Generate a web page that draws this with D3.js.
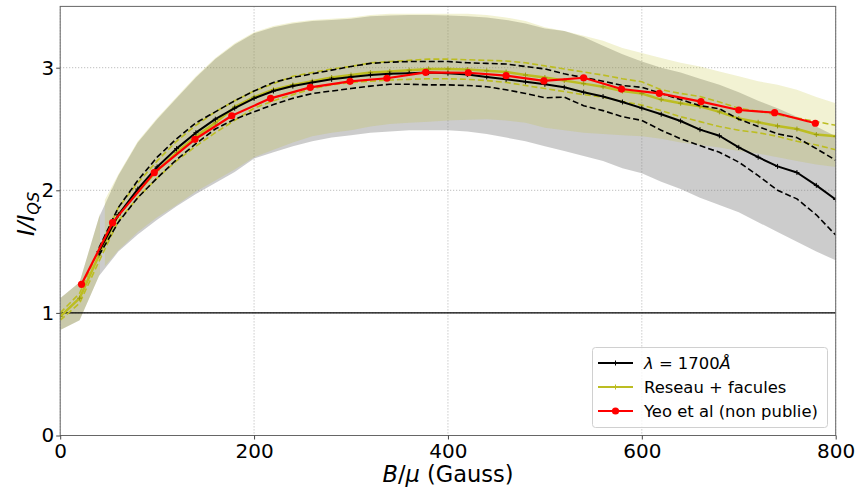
<!DOCTYPE html>
<html><head><meta charset="utf-8">
<script src="https://cdn.jsdelivr.net/npm/d3@7"></script>
<style>
body{margin:0;background:#fff;}
svg text{font-family:"DejaVu Sans",sans-serif;}
</style></head>
<body>
<svg id="c" width="859" height="488"></svg>
<script>
// ---- data ----
const bYellow = [0,20,40,60,80,100,120,140,160,180,200,220,240,260,280,300,320,340,360,380,400,420,440,460,480,500,520,540,560,580,600,620,640,660,680,700,720,740,760,780,800];
const yellowMean = [0.97,1.12,1.47,1.80,1.99,2.16,2.31,2.44,2.55,2.68,2.76,2.82,2.86,2.89,2.92,2.94,2.96,2.97,2.98,2.99,2.99,2.985,2.975,2.965,2.94,2.92,2.895,2.87,2.845,2.81,2.79,2.74,2.71,2.685,2.64,2.585,2.555,2.525,2.50,2.455,2.44];
const yellowUp = [1.00,1.16,1.52,1.86,2.06,2.24,2.40,2.53,2.64,2.73,2.81,2.87,2.93,2.96,2.99,3.01,3.04,3.05,3.06,3.07,3.07,3.065,3.06,3.055,3.04,3.015,2.99,2.965,2.94,2.91,2.885,2.82,2.79,2.765,2.72,2.67,2.645,2.615,2.59,2.56,2.53];
const yellowLo = [0.94,1.08,1.42,1.75,1.94,2.10,2.24,2.36,2.47,2.57,2.67,2.73,2.78,2.83,2.86,2.88,2.89,2.90,2.905,2.91,2.91,2.905,2.895,2.88,2.855,2.83,2.805,2.78,2.76,2.725,2.695,2.65,2.60,2.56,2.52,2.49,2.47,2.44,2.40,2.37,2.33];

// yellow band (one bin missing near 43 G -> null)
const bYellowBand = [0,20,40,41,43,46,60,80,100,120,140,160,180,200,220,240,260,280,300,320,340,360,380,400,420,440,460,480,500,520,540,560,580,600,620,640,660,680,700,720,740,760,780,800];
const yellowBandTop = [1.12,1.25,1.78,1.81,null,1.92,2.13,2.40,2.59,2.76,2.93,3.08,3.20,3.29,3.34,3.37,3.39,3.40,3.41,3.43,3.44,3.44,3.44,3.44,3.44,3.43,3.41,3.38,3.33,3.30,3.26,3.22,3.16,3.12,3.08,3.04,3.01,2.97,2.93,2.89,2.86,2.82,2.76,2.71];
const yellowBandBot = [0.86,0.94,1.30,1.32,null,1.38,1.51,1.66,1.78,1.88,1.99,2.08,2.17,2.27,2.33,2.39,2.44,2.47,2.49,2.52,2.54,2.55,2.56,2.57,2.575,2.58,2.57,2.55,2.51,2.49,2.47,2.46,2.45,2.44,2.42,2.39,2.37,2.35,2.32,2.30,2.27,2.24,2.21,2.19];

const bBlack = [40,60,80,100,120,140,160,180,200,220,240,260,280,300,320,340,360,380,400,420,440,460,480,500,520,540,560,580,600,620,640,660,680,700,720,740,760,780,800];
const blackMean = [1.50,1.80,2.01,2.19,2.34,2.47,2.58,2.67,2.75,2.81,2.85,2.88,2.905,2.925,2.94,2.95,2.955,2.96,2.955,2.945,2.925,2.905,2.885,2.865,2.84,2.80,2.765,2.72,2.67,2.62,2.565,2.495,2.445,2.35,2.27,2.195,2.145,2.04,1.925];
const blackUp = [1.53,1.86,2.08,2.27,2.42,2.55,2.64,2.73,2.81,2.88,2.92,2.95,2.98,3.01,3.035,3.045,3.05,3.05,3.05,3.04,3.035,3.03,3.01,2.99,2.95,2.92,2.89,2.855,2.84,2.79,2.74,2.69,2.665,2.58,2.52,2.46,2.43,2.34,2.245];
const blackLo = [1.47,1.74,1.94,2.10,2.25,2.38,2.50,2.58,2.64,2.70,2.75,2.79,2.81,2.83,2.85,2.865,2.865,2.86,2.86,2.855,2.845,2.82,2.79,2.755,2.76,2.69,2.65,2.60,2.57,2.49,2.42,2.365,2.31,2.23,2.12,2.00,1.93,1.80,1.635];

const bGrey = [0,20,40,60,80,100,120,140,160,180,200,220,240,260,280,300,320,340,360,380,400,420,440,460,480,500,520,540,560,580,600,620,640,660,680,700,720,740,760,780,800];
const greyBandTop = [1.12,1.25,1.78,2.12,2.39,2.58,2.75,2.92,3.07,3.19,3.28,3.33,3.36,3.38,3.39,3.40,3.42,3.425,3.43,3.43,3.425,3.42,3.41,3.39,3.36,3.32,3.30,3.25,3.18,3.11,3.05,3.00,2.96,2.91,2.86,2.80,2.73,2.67,2.60,2.52,2.44];
const greyBandBot = [0.86,0.94,1.30,1.50,1.64,1.76,1.87,1.97,2.06,2.15,2.26,2.31,2.36,2.40,2.43,2.45,2.47,2.48,2.49,2.49,2.49,2.48,2.46,2.43,2.40,2.36,2.32,2.28,2.24,2.18,2.14,2.07,2.01,1.94,1.88,1.82,1.74,1.66,1.58,1.50,1.43];

const bRed = [22,54,97,139,177,217,258,299,337,377,421,460,499,540,579,618,661,700,737,779];
const redVals = [1.233,1.736,2.144,2.416,2.608,2.750,2.840,2.889,2.914,2.962,2.959,2.935,2.892,2.918,2.826,2.791,2.723,2.655,2.633,2.547];

const xTicks = [0,200,400,600,800];
const yTicks = [0,1,2,3];
const legendLabels = ["λ = 1700Å","Reseau + facules","Yeo et al (non publie)"];

// ---- drawing ----
const svg = d3.select("#c");
const L=60.2, R=835.7, T=6.4, B=435.5;
const x = d3.scaleLinear().domain([0,800]).range([L,R]);
const y = d3.scaleLinear().domain([0,3.5]).range([B,T]);

svg.append("defs").append("clipPath").attr("id","clip")
  .append("rect").attr("x",L).attr("y",T).attr("width",R-L).attr("height",B-T);

// grid
const grid = svg.append("g");
grid.selectAll(".gx").data(xTicks).join("line")
  .attr("x1",d=>x(d)).attr("x2",d=>x(d)).attr("y1",T).attr("y2",B)
  .attr("stroke","#b0b0b0").attr("stroke-width",1).attr("stroke-dasharray","1,2");
grid.selectAll(".gy").data(yTicks).join("line")
  .attr("y1",d=>y(d)).attr("y2",d=>y(d)).attr("x1",L).attr("x2",R)
  .attr("stroke","#b0b0b0").attr("stroke-width",1).attr("stroke-dasharray","1,2");

const plot = svg.append("g").attr("clip-path","url(#clip)");

function band(xs, top, bot, fill){
  const data = xs.map((b,i)=>({b, t:top[i], l:bot[i]}));
  plot.append("path").datum(data)
    .attr("d", d3.area().defined(d=>d.t!==null && d.l!==null)
      .x(d=>x(d.b)).y0(d=>y(d.l)).y1(d=>y(d.t)))
    .attr("fill", fill).attr("stroke","none");
}
band(bGrey, greyBandTop, greyBandBot, "rgba(128,128,128,0.4)");
band(bYellowBand, yellowBandTop, yellowBandBot, "rgba(188,189,34,0.2)");

function line(xs, vals, color, width, dash){
  const data = xs.map((b,i)=>[b, vals[i]]);
  const p = plot.append("path").datum(data)
    .attr("d", d3.line().x(d=>x(d[0])).y(d=>y(d[1])))
    .attr("fill","none").attr("stroke",color).attr("stroke-width",width)
    .attr("stroke-linejoin","round");
  if(dash) p.attr("stroke-dasharray",dash);
  return data;
}
function plus(data, color){
  plot.append("g").selectAll("path").data(data).join("path")
    .attr("d", d=>`M${x(d[0])-2.5},${y(d[1])}h5M${x(d[0])},${y(d[1])-2.5}v5`)
    .attr("stroke",color).attr("stroke-width",1);
}

// reference line at 1
plot.append("line").attr("x1",x(0)).attr("x2",x(800)).attr("y1",y(1)).attr("y2",y(1))
  .attr("stroke","#000").attr("stroke-width",1.3);

const YC = "#bcbd22";
line(bYellow, yellowUp, YC, 1.6, "6,3");
line(bYellow, yellowLo, YC, 1.6, "6,3");
const ym = line(bYellow, yellowMean, YC, 2.5);
plus(ym, "#9a9b10");
line(bBlack, blackUp, "#000", 1.6, "6,3");
line(bBlack, blackLo, "#000", 1.6, "6,3");
const bm = line(bBlack, blackMean, "#000", 2);
plus(bm, "#000");
const rd = line(bRed, redVals, "#ff0000", 2.2);
plot.append("g").selectAll("circle").data(rd).join("circle")
  .attr("cx",d=>x(d[0])).attr("cy",d=>y(d[1])).attr("r",3.6).attr("fill","#ff0000");

// frame
svg.append("rect").attr("x",L).attr("y",T).attr("width",R-L).attr("height",B-T)
  .attr("fill","none").attr("stroke","#666").attr("stroke-width",1);

// axes
const xa = svg.append("g").attr("transform",`translate(0,${B})`)
  .call(d3.axisBottom(x).tickValues(xTicks).tickSize(4).tickFormat(d3.format("d")));
const ya = svg.append("g").attr("transform",`translate(${L},0)`)
  .call(d3.axisLeft(y).tickValues(yTicks).tickSize(4).tickFormat(d3.format("d")));
[xa,ya].forEach(a=>{
  a.select(".domain").remove();
  a.selectAll("line").attr("stroke","#444");
  a.selectAll("text").attr("font-size",20).attr("fill","#000").attr("font-family","DejaVu Sans");
});
xa.selectAll("text").attr("dy","0.85em").attr("y",5);
ya.selectAll("text").attr("x",-6);

// axis labels
const xl = svg.append("text").attr("x",448).attr("y",482).attr("text-anchor","middle").attr("font-size",22.5);
xl.append("tspan").attr("font-style","italic").text("B");
xl.append("tspan").text("/");
xl.append("tspan").attr("font-style","italic").text("μ");
xl.append("tspan").text(" (Gauss)");

const yl = svg.append("text").attr("transform","translate(34,214) rotate(-90)").attr("text-anchor","middle").attr("font-size",23);
yl.append("tspan").attr("font-style","italic").text("I");
yl.append("tspan").attr("font-style","italic").text("/");
yl.append("tspan").attr("font-style","italic").text("I");
yl.append("tspan").attr("font-style","italic").attr("font-size",16).attr("dy",5).text("QS");

// legend
const lg = svg.append("g");
lg.append("rect").attr("x",592.5).attr("y",347.5).attr("width",235).attr("height",80).attr("rx",3)
  .attr("fill","rgba(255,255,255,0.8)").attr("stroke","#d0d0d0").attr("stroke-width",1);
const rows = [
  {c:"#000", m:"plus"},
  {c:YC, m:"plus"},
  {c:"#ff0000", m:"circle"}
];
const rowY = [363, 387, 411];
rows.forEach((r,i)=>{
  const yy = rowY[i];
  lg.append("line").attr("x1",598).attr("x2",633).attr("y1",yy).attr("y2",yy).attr("stroke",r.c).attr("stroke-width",2.2);
  if(r.m==="circle") lg.append("circle").attr("cx",615.5).attr("cy",yy).attr("r",3.6).attr("fill",r.c);
  else lg.append("path").attr("d",`M613,${yy}h5M615.5,${yy-2.5}v5`).attr("stroke",r.c).attr("stroke-width",1);
});
const FS = 16.4;
const t0 = lg.append("text").attr("x",644).attr("y",rowY[0]+6).attr("font-size",FS);
t0.append("tspan").attr("font-style","italic").text("λ");
t0.append("tspan").text(" = 1700");
t0.append("tspan").attr("font-style","italic").text("Å");
lg.append("text").attr("x",644).attr("y",rowY[1]+6).attr("font-size",FS).text(legendLabels[1]);
lg.append("text").attr("x",644).attr("y",rowY[2]+6).attr("font-size",FS).text(legendLabels[2]);
</script>
</body></html>
